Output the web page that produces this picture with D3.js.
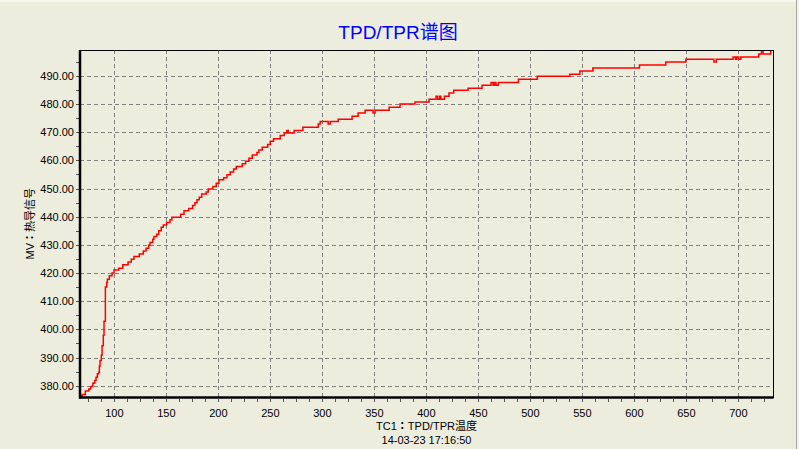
<!DOCTYPE html>
<html>
<head>
<meta charset="utf-8">
<script src="https://cdn.jsdelivr.net/npm/d3@7/dist/d3.min.js"></script>
<style>
  html, body { margin: 0; padding: 0; background: #EDEDDE; }
  svg { display: block; }
</style>
</head>
<body>
<svg id="chart" width="799" height="449"></svg>
<script>
// ---- data ----
const temperature = [
  67.0, 69.0, 72.1, 75.4, 77.3, 79.3, 81.2, 82.4, 83.7, 85.0,
  85.6, 86.3, 87.5, 88.2, 89.4, 90.1, 91.4, 92.7, 93.3, 95.2,
  97.8, 99.7, 104.2, 108.1, 113.2, 116.3, 118.9, 124.0, 127.9, 130.5,
  133.0, 134.3, 136.9, 138.1, 140.7, 142.7, 145.1, 147.1, 150.3, 153.5,
  155.4, 163.8, 167.0, 171.5, 175.3, 177.5, 179.5, 181.6, 184.0, 188.4,
  190.3, 194.8, 198.0, 200.6, 205.1, 208.3, 211.4, 214.7, 217.2, 223.0,
  226.2, 229.4, 232.6, 237.1, 239.0, 242.2, 247.4, 249.9, 253.1, 259.5,
  263.3, 265.9, 267.2, 272.9, 281.3, 296.0, 297.9, 305.6, 307.5, 315.2,
  328.6, 334.4, 341.1, 348.8, 350.7, 364.2, 374.7, 389.1, 402.6, 409.3,
  410.9, 412.8, 414.0, 417.4, 421.8, 426.3, 440.1, 453.5, 462.2, 464.1,
  465.3, 466.9, 469.3, 488.5, 506.7, 538.0, 547.6, 560.1, 604.9, 630.2,
  649.5, 676.5, 678.7, 694.9, 697.1, 698.5, 700.3, 702.3, 719.6, 722.2,
  723.8, 731.1, 733.3
];
const signal = [
  376.2, 376.9, 378.1, 378.8, 379.7, 380.9, 381.8, 383.0, 384.2, 384.8,
  387.0, 388.9, 390.8, 394.2, 397.9, 402.9, 415.0, 416.6, 417.8, 419.0,
  420.0, 421.1, 421.7, 422.9, 423.9, 424.9, 425.9, 426.8, 427.8, 428.8,
  429.9, 430.8, 432.0, 433.0, 433.8, 435.0, 436.3, 437.1, 437.9, 438.9,
  439.8, 440.9, 442.1, 442.9, 444.0, 445.0, 446.0, 446.9, 448.1, 448.8,
  449.8, 450.7, 451.9, 453.1, 453.8, 454.9, 455.9, 456.9, 457.8, 458.8,
  459.7, 460.8, 461.9, 462.8, 463.7, 464.7, 465.6, 466.8, 467.7, 468.8,
  469.7, 470.6, 469.7, 470.6, 471.8, 472.9, 473.8, 472.9, 473.8, 474.6,
  475.7, 476.8, 477.8, 476.8, 477.8, 478.9, 480.0, 480.7, 481.7, 482.8,
  481.7, 482.8, 481.7, 482.8, 483.9, 484.9, 485.6, 486.7, 487.7, 486.7,
  487.7, 486.7, 487.7, 488.8, 489.9, 490.6, 491.7, 492.8, 493.9, 494.9,
  495.9, 494.9, 495.9, 496.7, 495.9, 496.7, 495.9, 496.7, 497.8, 499.1,
  497.8, 499.1, 499.1
];
const xTickValues = [100, 150, 200, 250, 300, 350, 400, 450, 500, 550, 600, 650, 700];
const yTickValues = [380, 390, 400, 410, 420, 430, 440, 450, 460, 470, 480, 490];
const titleText = "TPD/TPR谱图";
const xTitleParts = ["TC1", "：", "TPD/TPR温度"];
const xSubTitle = "14-03-23 17:16:50";
const yTitleParts = ["MV", "：", "热导信号"];

// ---- layout ----
const W = 799, H = 449;
const L = 80, R = 773, T = 50, B = 397.5;
const latin = "'Liberation Sans', Arial, sans-serif";
const cjk = "'Liberation Sans', 'Noto Sans CJK SC', sans-serif";
const colonFont = "'Noto Sans CJK TC', 'Noto Sans CJK SC', sans-serif";

const svg = d3.select("#chart");

// window chrome
svg.append("rect").attr("x", 0).attr("y", 0).attr("width", W).attr("height", H).attr("fill", "#EDEDDE");
svg.append("rect").attr("x", 0).attr("y", 0).attr("width", W).attr("height", 2).attr("fill", "#F6F6F3");
svg.append("rect").attr("x", 796).attr("y", 0).attr("width", 1).attr("height", H).attr("fill", "#A7A69A");
svg.append("rect").attr("x", 797).attr("y", 0).attr("width", 2).attr("height", H).attr("fill", "#F4F4EE");

const x = d3.scaleLinear().domain([67.0, 733.3]).range([L, R]);
const y = d3.scaleLinear().domain([375.8, 499.2]).range([B, T]);

// grid
const grid = svg.append("g").attr("stroke", "#808080").attr("stroke-width", 1)
  .attr("stroke-dasharray", "4,3").attr("shape-rendering", "crispEdges");
grid.selectAll("line.gx").data(xTickValues).enter().append("line")
  .attr("x1", d => Math.round(x(d)) + 0.5).attr("x2", d => Math.round(x(d)) + 0.5)
  .attr("y1", T).attr("y2", B);
grid.selectAll("line.gy").data(yTickValues).enter().append("line")
  .attr("y1", d => Math.round(y(d)) + 0.5).attr("y2", d => Math.round(y(d)) + 0.5)
  .attr("x1", L).attr("x2", R);

// data line
svg.append("clipPath").attr("id", "clip").append("rect")
  .attr("x", L).attr("y", T).attr("width", R - L).attr("height", B - T);
const pts = temperature.map((t, i) => [t, signal[i]]);
const line = d3.line().x(d => x(d[0])).y(d => y(d[1])).curve(d3.curveStepAfter);
svg.append("path").attr("d", line(pts)).attr("fill", "none")
  .attr("stroke", "#FF0000").attr("stroke-width", 1.5)
  .attr("clip-path", "url(#clip)");

// frame
svg.append("rect").attr("x", L + 0.5).attr("y", T + 0.5).attr("width", R - L - 0.5).attr("height", B - T - 0.5)
  .attr("fill", "none").attr("stroke", "#000").attr("stroke-width", 1).attr("shape-rendering", "crispEdges");

// axes (minor ticks)
const xMinor = d3.range(75, 733, 12.5);
const yMinor = d3.range(380, 499, 5);
const xAxis = d3.axisBottom(x).tickValues(xMinor).tickSize(3).tickFormat("");
const yAxis = d3.axisLeft(y).tickValues(yMinor).tickSize(3).tickFormat("");
const gx = svg.append("g").attr("transform", `translate(0,${B + 1})`).call(xAxis);
const gy = svg.append("g").attr("transform", `translate(${L - 1},0)`).call(yAxis);
[gx, gy].forEach(g => {
  g.select(".domain").remove();
  g.selectAll("line").attr("stroke", "#555").attr("shape-rendering", "crispEdges");
});

// thick left & bottom axis lines
svg.append("line").attr("x1", L).attr("x2", L).attr("y1", T).attr("y2", B + 1)
  .attr("stroke", "#000").attr("stroke-width", 2.5);
svg.append("line").attr("x1", L - 1).attr("x2", R + 0.5).attr("y1", B).attr("y2", B)
  .attr("stroke", "#000").attr("stroke-width", 2.5);

// tick labels
svg.append("g").selectAll("text").data(xTickValues).enter().append("text")
  .attr("x", d => x(d)).attr("y", 416.5).attr("text-anchor", "middle")
  .attr("font-family", latin).attr("font-size", 11).attr("fill", "#000")
  .text(d => d);
svg.append("g").selectAll("text").data(yTickValues).enter().append("text")
  .attr("x", 74).attr("y", d => y(d) + 4).attr("text-anchor", "end")
  .attr("font-family", latin).attr("font-size", 11).attr("fill", "#000")
  .text(d => d3.format(".2f")(d));

// titles
svg.append("text").attr("x", 398).attr("y", 39).attr("text-anchor", "middle")
  .attr("font-family", cjk).attr("font-size", 19).attr("fill", "#0000FF").text(titleText);

function partsText(sel, parts) {
  parts.forEach((p, i) => {
    sel.append("tspan").attr("font-family", i === 1 ? colonFont : cjk)
      .attr("font-weight", i === 1 ? "bold" : null).text(p);
  });
}
const xt = svg.append("text").attr("x", (L + R) / 2).attr("y", 430).attr("text-anchor", "middle")
  .attr("font-size", 11).attr("fill", "#000");
partsText(xt, xTitleParts);
svg.append("text").attr("x", (L + R) / 2).attr("y", 444).attr("text-anchor", "middle")
  .attr("font-family", latin).attr("font-size", 11).attr("fill", "#000").text(xSubTitle);
const yt = svg.append("text").attr("transform", `translate(34,${(T + B) / 2}) rotate(-90)`)
  .attr("text-anchor", "middle").attr("font-size", 11).attr("fill", "#000");
partsText(yt, yTitleParts);
</script>
</body>
</html>
